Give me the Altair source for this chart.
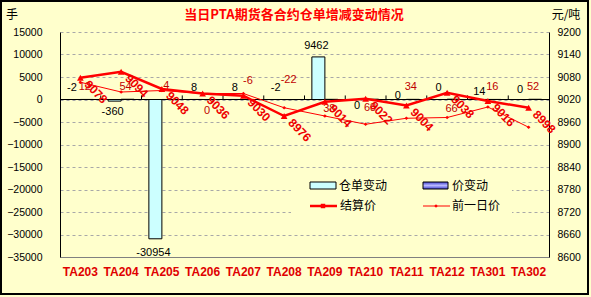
import altair as alt
import pandas as pd

# ---------------- data ----------------
contracts = ["TA203", "TA204", "TA205", "TA206", "TA207", "TA208",
             "TA209", "TA210", "TA211", "TA212", "TA301", "TA302"]
warrant_change = [-2, -360, -30954, 8, 8, -2, 9462, 0, 0, 0, 14, 0]      # 仓单变动 (手)
price_change = [12, 54, 4, 0, -6, -22, 38, 68, 34, 66, 16, 52]            # 价变动 (元/吨)
settle_price = [9078, 9094, 9048, 9036, 9030, 8976, 9014, 9022, 9004, 9038, 9016, 8998]  # 结算价
prev_price = [9066, 9040, 9044, 9036, 9036, 8998, 8976, 8954, 8970, 8972, 9000, 8946]    # 前一日价
left_ticks = [-35000, -30000, -25000, -20000, -15000, -10000, -5000, 0, 5000, 10000, 15000]
right_ticks = [8600, 8660, 8720, 8780, 8840, 8900, 8960, 9020, 9080, 9140, 9200]

# label placement (style only: vertical pixel offsets of the value labels)
warrant_label_dy = [-12, 11, 14, -11, -11, -12, -11, 6, -4, -12, -7, -10]
price_label_dy = [-12, -12, -13, 11, -19, -20, 10, 9, -12, 10, -12, -12]

S_W, S_P, S_SET, S_PREV = "仓单变动", "价变动", "结算价", "前一日价"

bars_df = pd.DataFrame({
    "contract": contracts * 2,
    "series": [S_W] * len(contracts) + [S_P] * len(contracts),
    "value": warrant_change + price_change,
    "label": [str(v) for v in warrant_change + price_change],
    "dy": warrant_label_dy + price_label_dy,
})
lines_df = pd.DataFrame({
    "contract": contracts * 2,
    "series": [S_SET] * len(contracts) + [S_PREV] * len(contracts),
    "price": settle_price + prev_price,
})
one = pd.DataFrame({"a": [0]})

FONT = "Liberation Sans"
CJK = "Noto Sans CJK SC"
RED = "#FF0000"
DARKRED = "#C00000"
YELLOW = "#FFFFCC"

x_scale = alt.Scale(domain=contracts, paddingInner=0, paddingOuter=0)
x_axis = alt.Axis(title=None, orient="bottom", ticks=False, labelAngle=0,
                  labelFont=FONT, labelFontSize=12, labelFontWeight="bold",
                  labelColor="#E00000", labelPadding=9, domainColor="#808080",
                  domainWidth=1, grid=False, labelOverlap=False)
x_enc = alt.X("contract:N", sort=contracts, scale=x_scale, axis=x_axis)
xoff = alt.XOffset("series:N", sort=[S_W, S_P],
                   scale=alt.Scale(domain=[S_W, S_P], paddingInner=0, paddingOuter=0.567))

y_left_scale = alt.Scale(domain=[-35000, 15000], nice=False, zero=True)
y_left_axis = alt.Axis(title=None, orient="left", values=left_ticks, ticks=False,
                       labelFont=FONT, labelFontSize=10.5, labelColor="black",
                       labelPadding=18, domainColor="black", domainWidth=1,
                       labelOverlap=False, tickCount=11,
                       grid=True, gridColor="#A8A8A8", gridDash=[3, 3], gridWidth=1,
                       format="d")
y_left = alt.Y("value:Q", scale=y_left_scale, axis=y_left_axis)

bar_chart = alt.Chart(bars_df).mark_bar(stroke="black", strokeWidth=1).encode(
    x=x_enc, xOffset=xoff, y=y_left,
    color=alt.Color("series:N", scale=alt.Scale(domain=[S_W, S_P], range=["#CCFFFF", "#6666FF"]),
                    legend=None),
)

label_layers = []
for series, color in [(S_W, "black"), (S_P, DARKRED)]:
    dys = sorted(set(bars_df.loc[bars_df.series == series, "dy"]))
    for d in dys:
        label_layers.append(
            alt.Chart(bars_df).transform_filter(
                (alt.datum.series == series) & (alt.datum.dy == d)
            ).mark_text(font=FONT, fontSize=11, color=color, dy=d, dx=-2,
                        baseline="middle", align="center").encode(
                x=x_enc, xOffset=xoff, y=y_left, text="label:N")
        )

zero_rule = alt.Chart(pd.DataFrame({"value": [0]})).mark_rule(
    color="black", strokeWidth=1).encode(y=y_left)
tick_rules = alt.Chart(pd.DataFrame({"contract": contracts[1:]})).transform_calculate(
    value="0", top="900").mark_rule(color="black", strokeWidth=1).encode(
    x=alt.X("contract:N", sort=contracts, scale=x_scale, axis=x_axis, bandPosition=0),
    y=y_left, y2="top:Q")

left = alt.layer(bar_chart, *label_layers, zero_rule, tick_rules)

y_right = alt.Y("price:Q",
                scale=alt.Scale(domain=[8600, 9200], nice=False, zero=False),
                axis=alt.Axis(title=None, orient="right", values=right_ticks, ticks=False,
                              labelFont=FONT, labelFontSize=10.5, labelColor="black",
                              labelPadding=8, domainColor="black", domainWidth=1,
                              labelOverlap=False, grid=False, format="d"))

settle_base = alt.Chart(lines_df).transform_filter(alt.datum.series == S_SET)
prev_base = alt.Chart(lines_df).transform_filter(alt.datum.series == S_PREV)

prev_line = prev_base.mark_line(color=RED, strokeWidth=1).encode(x=x_enc, y=y_right)
prev_pts = prev_base.mark_point(shape="diamond", filled=True, size=14, color=RED,
                                opacity=1).encode(x=x_enc, y=y_right)
settle_line = settle_base.mark_line(color=RED, strokeWidth=2.5).encode(x=x_enc, y=y_right)
settle_pts = settle_base.mark_point(shape="triangle-up", filled=True, size=45, color=RED,
                                    opacity=1).encode(x=x_enc, y=y_right)
settle_labels = settle_base.mark_text(angle=45, dx=21, dy=-1, font=FONT, fontSize=12,
                                      fontWeight="bold", color="#EE0000",
                                      align="center", baseline="middle").encode(
    x=x_enc, y=y_right, text="price:Q")

right = alt.layer(prev_line, prev_pts, settle_line, settle_pts, settle_labels)

# ---------------- decorations: frame, titles, legend ----------------
base = alt.Chart(one)
frame = base.mark_rect(fillOpacity=0, stroke="black", strokeWidth=2).encode(
    x=alt.value(-59), x2=alt.value(528), y=alt.value(-31), y2=alt.value(262))
title = base.mark_text(font=CJK, fontSize=13, fontWeight="bold", color=RED,
                       align="center", baseline="middle").encode(
    x=alt.value(234), y=alt.value(-17), text=alt.value("当日PTA期货各合约仓单增减变动情况"))
unit_l = base.mark_text(font=CJK, fontSize=12, color="black", align="center",
                        baseline="middle").encode(
    x=alt.value(-48), y=alt.value(-17), text=alt.value("手"))
unit_r = base.mark_text(font=CJK, fontSize=12, color="black", align="center",
                        baseline="middle").encode(
    x=alt.value(506), y=alt.value(-17), text=alt.value("元/吨"))

legend_bg = base.mark_rect(fill=YELLOW, stroke=None).encode(
    x=alt.value(231), x2=alt.value(452), y=alt.value(141), y2=alt.value(190))
leg_w = base.mark_rect(fill="#CCFFFF", stroke="black", strokeWidth=1).encode(
    x=alt.value(250), x2=alt.value(276), y=alt.value(150), y2=alt.value(157))
leg_p = base.mark_rect(
    fill=alt.Gradient(gradient="linear",
                      stops=[alt.GradientStop(color="#4040D0", offset=0),
                             alt.GradientStop(color="#B8B8FF", offset=0.5),
                             alt.GradientStop(color="#4040D0", offset=1)],
                      x1=0, x2=0, y1=0, y2=1),
    stroke="black", strokeWidth=1).encode(
    x=alt.value(363), x2=alt.value(388), y=alt.value(150), y2=alt.value(157))
leg_set_line = base.mark_rule(color=RED, strokeWidth=2.5).encode(
    x=alt.value(250), x2=alt.value(277), y=alt.value(174))
leg_set_pt = base.mark_point(shape="square", filled=True, size=20, color=RED, opacity=1).encode(
    x=alt.value(263), y=alt.value(174))
leg_prev_line = base.mark_rule(color=RED, strokeWidth=1).encode(
    x=alt.value(363), x2=alt.value(390), y=alt.value(174))
leg_prev_pt = base.mark_point(shape="diamond", filled=True, size=12, color=RED, opacity=1).encode(
    x=alt.value(376), y=alt.value(174))


def leg_text(x, y, t):
    return base.mark_text(font=CJK, fontSize=12, color="black", align="left",
                          baseline="middle").encode(
        x=alt.value(x), y=alt.value(y), text=alt.value(t))


deco = alt.layer(frame, title, unit_l, unit_r, legend_bg, leg_w, leg_p,
                 leg_set_line, leg_set_pt, leg_prev_line, leg_prev_pt,
                 leg_text(279, 154, S_W), leg_text(392, 154, S_P),
                 leg_text(280, 174, S_SET), leg_text(392, 174, S_PREV))

chart = alt.layer(left, right, deco).resolve_scale(y="independent").properties(
    width=489, height=225,
    padding={"left": 60, "top": 32, "right": 42, "bottom": 40},
    autosize=alt.AutoSizeParams(type="none"),
    background=YELLOW,
).configure_view(stroke=None)

chart.save("out.html", embed_options={"renderer": "svg", "actions": False})
